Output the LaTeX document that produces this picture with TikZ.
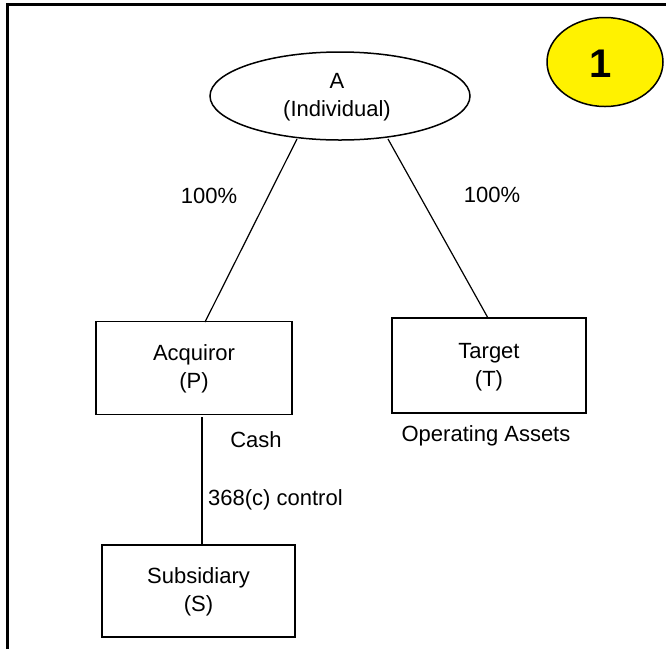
\documentclass[tikz,border=0pt]{standalone}
\usepackage{fontspec}
\setmainfont{Liberation Sans}
\usetikzlibrary{shapes.geometric}
\begin{document}
\begin{tikzpicture}[x=1pt,y=-1pt,
  every node/.style={font=\fontsize{22}{28}\selectfont, inner sep=0pt, align=center},
  entity/.style={draw, line width=1.5pt, minimum width=196pt, minimum height=93pt},
  link/.style={line width=1.2pt}]
\useasboundingbox (0,0) rectangle (666,649);
\draw[line width=3pt] (7.5,649) -- (7.5,4.5) -- (666,4.5);
% badge
\node[draw, ellipse, line width=1.5pt, fill=yellow, minimum width=116pt, minimum height=89pt] (badge) at (605,62) {};
\node[font=\fontsize{40}{40}\selectfont\bfseries] (one) at (601,64) {1};
% top ellipse
\node[draw, ellipse, line width=1.5pt, minimum width=260pt, minimum height=88pt] (A) at (340,96) {};
\node (Atxt) at (337,97) {A\\(Individual)};
% boxes
\node[entity] (P) at (194,368) {};
\node (Ptxt) at (194,369) {Acquiror\\(P)};
\node[entity, minimum width=194pt, minimum height=95pt] (T) at (489,365.5) {};
\node (Ttxt) at (489,367) {Target\\(T)};
\node[entity, minimum width=193pt, minimum height=92pt] (S) at (198.5,591) {};
\node (Stxt) at (198.5,592) {Subsidiary\\(S)};
% connectors
\coordinate (a1) at (297,139);
\coordinate (a2) at (388,139);
\coordinate (p1) at (205,322);
\coordinate (t1) at (488,318);
\coordinate (p2) at (202,417);
\coordinate (s1) at (202,545);
\draw[link] (a1) -- (p1);
\draw[link] (a2) -- (t1);
\draw[link] (p2) -- (s1);
% labels
\node (l1) at (209,196) {100\%};
\node (l2) at (492,195) {100\%};
\node (cash) at (256,440) {Cash};
\node[anchor=west] (ctl) at (208,500) {368(c) control};
\node (ops) at (486,436) {Operating Assets};
\end{tikzpicture}
\end{document}
